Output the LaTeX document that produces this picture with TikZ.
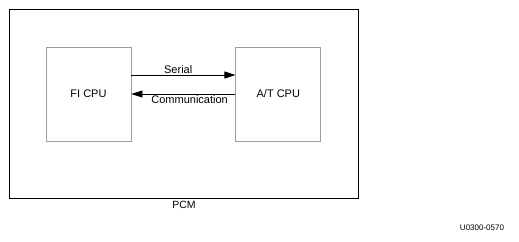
\documentclass[tikz,border=0pt]{standalone}
\usepackage{fontspec}
\setmainfont{Liberation Sans}
\usetikzlibrary{arrows.meta,positioning}
\definecolor{boxgray}{rgb}{0.62, 0.62, 0.62}
\tikzset{
  marco/.style={
    draw=black,
    line width=1pt,
    minimum width=349pt,
    minimum height=189pt,
    inner sep=0pt
  },
  cpu/.style={
    draw=boxgray,
    line width=0.8pt,
    minimum width=85pt,
    minimum height=94pt,
    align=center,
    inner sep=0pt,
    font=\fontsize{11}{13}\selectfont
  },
  etiqueta/.style={
    inner sep=1pt,
    font=\fontsize{11}{13}\selectfont
  },
  flecha/.style={
    -{Triangle[length=11pt,width=7pt]},
    line width=0.8pt,
    black
  }
}
\begin{document}
\begin{tikzpicture}[x=1pt,y=-1pt]
\useasboundingbox (0,0) rectangle (519,241);
\node[marco] (pcm) at (183.5,103.5) {};
\node[cpu] (fi) at (88.5,94) {FI CPU};
\node[cpu, right=104pt of fi] (at) {A/T CPU};
\node[etiqueta, font=\fontsize{10.5}{12}\selectfont] (pcmlbl) at (184,205) {PCM};
\node[etiqueta, font=\fontsize{8}{10}\selectfont] (codigo) at (482,228) {U0300-0570};
\draw[flecha] ([yshift=19pt]fi.east) -- node[etiqueta, pos=0.45, above] (serial) {Serial} ([yshift=19pt]at.west);
\draw[flecha] (at.west) -- node[etiqueta, pos=0.44, below] (comm) {Communication} (fi.east);
\end{tikzpicture}
\end{document}
